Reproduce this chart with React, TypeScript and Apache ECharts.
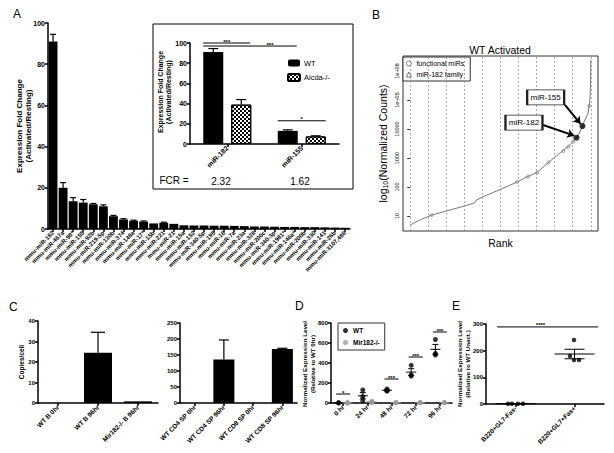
import React, { useEffect, useRef } from 'react';
import * as echarts from 'echarts';

const FONT = '"Liberation Sans", Arial, Helvetica, sans-serif';

// ---------- Panel A (main) ----------
const A_CATS = ['mmu-miR-182', 'mmu-miR-467a', 'mmu-miR-98*', 'mmu-miR-155', 'mmu-miR-92b', 'mmu-miR-219-5p', 'mmu-miR-130b', 'mmu-miR-374', 'mmu-miR-148a', 'mmu-miR-17*', 'mmu-miR-15b', 'mmu-miR-221', 'mmu-miR-21', 'mmu-miR-15a', 'mmu-miR-152', 'mmu-miR-340-5p', 'mmu-miR-195', 'mmu-miR-16', 'mmu-miR-7a', 'mmu-miR-23a', 'mmu-miR-328', 'mmu-miR-200c', 'mmu-miR-340-3p', 'mmu-miR-1981*', 'mmu-miR-146a*', 'mmu-miR-200b', 'mmu-miR-330', 'mmu-miR-141', 'mmu-miR-26b', 'mmu-miR-3107,486'];
const A_VALUES = [91, 20, 13.5, 12.8, 12, 11, 6.2, 4.6, 4, 3.6, 2.7, 3, 2.5, 1.8, 1.7, 1.7, 1.6, 1.6, 1.5, 1.4, 1.2, 1.2, 1.1, 1.0, 1.0, 0.9, 0.9, 0.8, 0.7, 0.6];
const A_ERRORS = [3.5, 2.5, 1.7, 1.5, 0.4, 0.7, 0.4, 0.4, 0.3, 0.3, 0.2, 0.3, 0.2, 0.2, 0.2, 0.1, 0.1, 0.1, 0.1, 0.1, 0.1, 0.1, 0.1, 0.1, 0.1, 0.1, 0.1, 0.1, 0.1, 0.1];
const A_YTITLE = 'Expression Fold Change\n(Activated/Resting)';

// ---------- Panel A (inset) ----------
const INSET_CATS = ['miR-182', 'miR-155'];
const INSET_WT = [91, 13];
const INSET_WT_ERR = [3.5, 1];
const INSET_AICDA = [39, 7.5];
const INSET_AICDA_ERR = [5, 0.6];
const FCR_VALUES = ['2.32', '1.62'];

// ---------- Panel B ----------
const B_RANK = [0, 5, 9.7, 13.4, 20.3, 29.9, 35.5, 36.5, 40, 50, 59.2, 65, 70.2, 76.6, 81, 84.8, 87.5, 90.3, 92.1, 94, 95.4, 96.5, 97.6, 98.5, 99.1, 99.6, 99.9, 100];
const B_COUNTS = [4.9, 7.1, 9.5, 11.5, 15, 22, 28, 35, 45, 83, 148, 229, 316, 708, 1200, 1820, 2510, 3720, 5010, 7940, 12600, 19000, 26300, 35500, 61700, 126000, 398000, 2400000];
const B_FUNC_RANK = [11.9, 59.2, 65.2, 70.2, 76.6, 84.8, 87.5, 90.3, 99.1];
const B_FUNC_COUNTS = [10.7, 151, 229, 309, 708, 1740, 2450, 3630, 61700];
const B_HIGHLIGHT_NAMES = ['miR-182', 'miR-155'];
const B_HIGHLIGHT_RANK = [92.1, 95.4];
const B_HIGHLIGHT_COUNTS = [5010, 12600];
const B_GRID_RANKS = [0, 10, 20, 30, 40, 50, 60, 70, 80, 90, 100];
const B_TICK_EXP = [1, 2, 3, 4, 5, 6];
const B_TICK_LABELS = ['10', '100', '1000', '10000', '1e+05', '1e+06'];

// ---------- Panel C ----------
const C1_CATS = ['WT B 0hr', 'WT B 96hr', 'Mir182-/- B 96hr'];
const C1_VALUES = [0, 24.5, 0.8];
const C1_ERRORS = [0, 10, 0];
const C2_CATS = ['WT CD4 SP 0hr', 'WT CD4 SP 96hr', 'WT CD8 SP 0hr', 'WT CD8 SP 96hr'];
const C2_VALUES = [0, 136, 0, 169];
const C2_ERRORS = [0, 61, 0, 2];

// ---------- Panel D ----------
const D_CATS = ['0 hr', '24 hr', '48 hr', '72 hr', '96 hr'];
const D_WT = [[2, 2, 1], [130, 63, 23], [140, 125, 118], [377, 280, 270], [635, 495, 480]];
const D_MIR = [[1, 1, 1], [18, 10, 5], [3, 3, 3], [3, 3, 3], [3, 3, 3]];
const D_SIG_CATS = [0, 2, 3, 4];
const D_SIG_Y = [90, 240, 460, 710];
const D_SIG_TEXT = ['*', '***', '***', '***'];

// ---------- Panel E ----------
const E_CATS = ['B220+GL7-Fas-', 'B220+GL7+Fas+'];
const E_VALUES = [[1, 1, 1, 1], [240, 180, 165, 165]];
const E_SIG_Y = 289;
const E_SIG_TEXT = '****';

// layout / style constants
const E_OFFSETS = [[-7.5, -3.5, 2.5, 7.5], [-0.5, -4.5, -0.5, 4.5]];

const mean = (a: number[]) => a.reduce((s, v) => s + v, 0) / a.length;
const sem = (a: number[]) => {
  const m = mean(a);
  const sd = Math.sqrt(a.reduce((s, v) => s + (v - m) * (v - m), 0) / (a.length - 1));
  return sd / Math.sqrt(a.length);
};

const lbl = (size: number, extra: any = {}) => ({ color: '#000', fontFamily: FONT, fontWeight: 'bold', fontSize: size, ...extra });
const AXLINE = { show: true, lineStyle: { color: '#000', width: 1.5 } };
const AXTICK = { show: true, length: 3, lineStyle: { color: '#000', width: 1.5 } };

function catX(gridIndex: number, data: string[], size: number, extra: any = {}) {
  return {
    type: 'category', gridIndex, data, boundaryGap: true,
    axisLine: AXLINE,
    axisTick: { ...AXTICK, alignWithLabel: true },
    axisLabel: lbl(size, { rotate: 45, interval: 0, margin: 3 }),
    splitLine: { show: false },
    ...extra,
  };
}
function valY(gridIndex: number, min: number, max: number, interval: number, size: number) {
  return {
    type: 'value', gridIndex, min, max, interval,
    axisLine: AXLINE, axisTick: AXTICK,
    axisLabel: lbl(size, { margin: 3 }),
    splitLine: { show: false },
  };
}

function errSeries(xi: number, yi: number, values: number[], errs: number[], dx: number, cap: number) {
  return {
    type: 'custom', xAxisIndex: xi, yAxisIndex: yi, silent: true, z: 3,
    data: values.map((v, i) => [i, v, v + errs[i]]),
    renderItem: (params: any, api: any) => {
      const i = api.value(0);
      const p1 = api.coord([i, api.value(1)]);
      const p2 = api.coord([i, api.value(2)]);
      const x = p1[0] + dx;
      const st = { stroke: '#000', lineWidth: 1.2 };
      if (Math.abs(p1[1] - p2[1]) < 0.5) return { type: 'group', children: [] };
      return {
        type: 'group', children: [
          { type: 'line', shape: { x1: x, y1: p1[1], x2: x, y2: p2[1] }, style: st },
          { type: 'line', shape: { x1: x - cap, y1: p2[1], x2: x + cap, y2: p2[1] }, style: st },
        ],
      };
    },
  };
}

function meanSemSeries(xi: number, yi: number, groups: number[][], dx: number, halfMean: number, halfCap: number, color: string) {
  return {
    type: 'custom', xAxisIndex: xi, yAxisIndex: yi, silent: true, z: 4,
    data: groups.map((g, i) => { const m = mean(g); const s = sem(g); return [i, m, m - s, m + s]; }),
    renderItem: (params: any, api: any) => {
      const i = api.value(0);
      const pm = api.coord([i, api.value(1)]);
      const pl = api.coord([i, api.value(2)]);
      const ph = api.coord([i, api.value(3)]);
      const x = pm[0] + dx;
      const st = { stroke: color, lineWidth: 1 };
      return {
        type: 'group', children: [
          { type: 'line', shape: { x1: x - halfMean, y1: pm[1], x2: x + halfMean, y2: pm[1] }, style: st },
          { type: 'line', shape: { x1: x, y1: pl[1], x2: x, y2: ph[1] }, style: st },
          { type: 'line', shape: { x1: x - halfCap, y1: pl[1], x2: x + halfCap, y2: pl[1] }, style: st },
          { type: 'line', shape: { x1: x - halfCap, y1: ph[1], x2: x + halfCap, y2: ph[1] }, style: st },
        ],
      };
    },
  };
}

type Sig = { c1: number; dx1: number; c2: number; dx2: number; y: number; text: string; tdx: number };
function sigSeries(xi: number, yi: number, sigs: Sig[], fontSize: number) {
  return {
    type: 'custom', xAxisIndex: xi, yAxisIndex: yi, silent: true, z: 5,
    data: sigs.map((s) => [s.c1, s.y]),
    renderItem: (params: any, api: any) => {
      const s = sigs[params.dataIndex];
      const p1 = api.coord([s.c1, s.y]);
      const p2 = api.coord([s.c2, s.y]);
      const x1 = p1[0] + s.dx1, x2 = p2[0] + s.dx2, y = p1[1];
      return {
        type: 'group', children: [
          { type: 'line', shape: { x1, y1: y, x2, y2: y }, style: { stroke: '#000', lineWidth: 1 } },
          {
            type: 'text',
            style: {
              text: s.text, x: (x1 + x2) / 2 + s.tdx, y: y + 1.5,
              textAlign: 'center', textVerticalAlign: 'bottom', align: 'center', verticalAlign: 'bottom',
              fontSize, fontFamily: FONT, fontWeight: 'bold', fill: '#000',
            },
          },
        ],
      };
    },
  };
}

function gText(text: string, x: number, y: number, size: number, align = 'left', weight = 'normal', rotation = 0, lineHeight?: number) {
  return {
    type: 'text', silent: true, x, y, rotation,
    style: {
      text, x: 0, y: 0, fontSize: size, fontFamily: FONT, fontWeight: weight, fill: '#000',
      textAlign: align, align, textVerticalAlign: 'middle', verticalAlign: 'middle',
      ...(lineHeight ? { lineHeight } : {}),
    },
  };
}

function buildOption(): any {
  const log10 = (v: number) => Math.log10(v);
  const grid = [
    { left: 48, top: 23, width: 302, height: 206 },
    { left: 190, top: 43, width: 149, height: 101 },
    { left: 403, top: 56, width: 195, height: 175, show: true, borderColor: '#333', borderWidth: 1, backgroundColor: 'transparent' },
    { left: 38, top: 321, width: 120, height: 82 },
    { left: 180, top: 323, width: 117, height: 80 },
    { left: 331, top: 323, width: 121, height: 80 },
    { left: 486, top: 324, width: 118, height: 80 },
  ];

  const xAxis = [
    catX(0, A_CATS, 6),
    catX(1, INSET_CATS, 7),
    {
      type: 'value', gridIndex: 2, min: -4, max: 104,
      axisLine: { show: false }, axisTick: { show: false }, axisLabel: { show: false }, splitLine: { show: false },
      name: 'Rank', nameLocation: 'middle', nameGap: 6,
      nameTextStyle: { color: '#000', fontFamily: FONT, fontSize: 10.5 },
    },
    catX(3, C1_CATS, 6.5),
    catX(4, C2_CATS, 6.5),
    catX(5, D_CATS, 6.5),
    catX(6, E_CATS, 6.5),
  ];

  const yAxis = [
    valY(0, 0, 100, 20, 7),
    valY(1, 0, 100, 20, 7),
    {
      type: 'value', gridIndex: 2, min: 0.483, max: 6.517,
      axisLine: { show: false },
      axisTick: { show: true, customValues: B_TICK_EXP, length: 3, lineStyle: { color: '#000', width: 0.8 } },
      axisLabel: {
        customValues: B_TICK_EXP, rotate: 90, fontSize: 5.5, color: '#000', fontFamily: FONT, margin: 3,
        formatter: (v: number) => B_TICK_LABELS[B_TICK_EXP.indexOf(Math.round(v))] ?? '',
      },
      splitLine: { show: false },
      name: '{a|log}{s|10}{a|(Normalized Counts)}', nameLocation: 'middle', nameGap: 14,
      nameTextStyle: {
        color: '#000', fontFamily: FONT, fontSize: 10.5,
        rich: {
          a: { fontSize: 10.5, fontFamily: FONT, color: '#000' },
          s: { fontSize: 7, fontFamily: FONT, color: '#000', padding: [5, 0, 0, 0] },
        },
      },
    },
    valY(3, 0, 40, 10, 6),
    valY(4, 0, 250, 50, 6),
    valY(5, 0, 800, 200, 6),
    valY(6, 0, 300, 100, 6),
  ];

  const series: any[] = [];

  // A main
  series.push({ type: 'bar', xAxisIndex: 0, yAxisIndex: 0, data: A_VALUES, barWidth: '88%', itemStyle: { color: '#000' }, silent: true });
  series.push(errSeries(0, 0, A_VALUES, A_ERRORS, 0, 3));

  // A inset
  series.push({ name: 'WT', type: 'bar', xAxisIndex: 1, yAxisIndex: 1, data: INSET_WT, barWidth: 20, barGap: '40%', itemStyle: { color: '#000' }, silent: true });
  series.push({
    name: 'Aicda-/-', type: 'bar', xAxisIndex: 1, yAxisIndex: 1, data: INSET_AICDA, barWidth: 20, silent: true,
    itemStyle: {
      color: '#fff', borderColor: '#000', borderWidth: 1,
      decal: { symbol: 'rect', symbolSize: 1, dashArrayX: [[1.5, 1.5], [0, 1.5, 1.5, 0]], dashArrayY: [1.5, 0], color: '#000', rotation: 0 },
    },
  });
  series.push(errSeries(1, 1, INSET_WT, INSET_WT_ERR, -14, 5));
  series.push(errSeries(1, 1, INSET_AICDA, INSET_AICDA_ERR, 14, 5));
  series.push(sigSeries(1, 1, [
    { c1: 0, dx1: -24, c2: 0, dx2: 23, y: 100, text: '***', tdx: 0 },
    { c1: 0, dx1: -24, c2: 1, dx2: -5, y: 97, text: '***', tdx: 20 },
    { c1: 1, dx1: -24, c2: 1, dx2: 24, y: 23, text: '*', tdx: 0 },
  ], 6));

  // B
  series.push({
    type: 'line', xAxisIndex: 2, yAxisIndex: 2, silent: true, showSymbol: false, symbol: 'none',
    data: B_RANK.map((r, i) => [r, log10(B_COUNTS[i])]),
    lineStyle: { color: '#555', width: 0.8 },
    markLine: {
      silent: true, symbol: ['none', 'none'], label: { show: false },
      lineStyle: { type: [2, 2], color: '#888', width: 0.7 },
      data: B_GRID_RANKS.map((r) => ({ xAxis: r })),
    },
  });
  series.push({
    name: 'functional miRs', type: 'scatter', xAxisIndex: 2, yAxisIndex: 2, silent: true, symbol: 'circle', symbolSize: 3,
    itemStyle: { color: '#fff', borderColor: '#555', borderWidth: 0.7 },
    data: B_FUNC_RANK.map((r, i) => [r, log10(B_FUNC_COUNTS[i])]),
  });
  series.push({
    name: 'miR-182 family', type: 'scatter', xAxisIndex: 2, yAxisIndex: 2, silent: true, symbol: 'triangle', symbolSize: 4,
    itemStyle: { color: '#fff', borderColor: '#555', borderWidth: 0.7 }, data: [],
  });
  series.push({
    type: 'scatter', xAxisIndex: 2, yAxisIndex: 2, silent: true, symbol: 'circle', symbolSize: 6, z: 6,
    itemStyle: { color: '#000' },
    data: B_HIGHLIGHT_RANK.map((r, i) => ({ name: B_HIGHLIGHT_NAMES[i], value: [r, log10(B_HIGHLIGHT_COUNTS[i])] })),
    markPoint: {
      silent: true, symbol: 'rect', symbolSize: [37, 15],
      itemStyle: { color: '#fff', borderColor: '#222', borderWidth: 1.5 },
      label: { show: true, position: 'inside', color: '#000', fontSize: 8, fontFamily: FONT, formatter: '{b}' },
      data: [
        { name: 'miR-155', coord: [75, 5.09] },
        { name: 'miR-182', coord: [63, 4.22] },
      ],
    },
    markLine: {
      silent: true, symbol: ['none', 'arrow'], symbolSize: 7, label: { show: false },
      lineStyle: { color: '#000', width: 2, type: 'solid' },
      data: [
        [{ coord: [85.7, 4.83] }, { coord: [94.3, 4.18] }],
        [{ coord: [73.6, 4.14] }, { coord: [90.8, 3.77] }],
      ],
    },
  });

  // C
  series.push({ type: 'bar', xAxisIndex: 3, yAxisIndex: 3, data: C1_VALUES, barWidth: 28, itemStyle: { color: '#000' }, silent: true });
  series.push(errSeries(3, 3, C1_VALUES, C1_ERRORS, 0, 7));
  series.push({ type: 'bar', xAxisIndex: 4, yAxisIndex: 4, data: C2_VALUES, barWidth: 21, itemStyle: { color: '#000' }, silent: true });
  series.push(errSeries(4, 4, C2_VALUES, C2_ERRORS, 0, 5));

  // D
  series.push({
    name: 'D-WT', type: 'scatter', xAxisIndex: 5, yAxisIndex: 5, silent: true, symbol: 'circle', symbolSize: 5, symbolOffset: [-4.5, 0],
    itemStyle: { color: '#000' },
    data: D_WT.flatMap((g, i) => g.map((v) => [i, v])),
  });
  series.push({
    name: 'D-Mir182-/-', type: 'scatter', xAxisIndex: 5, yAxisIndex: 5, silent: true, symbol: 'circle', symbolSize: 5, symbolOffset: [4.5, 0],
    itemStyle: { color: '#999' },
    data: D_MIR.flatMap((g, i) => g.map((v) => [i, v])),
  });
  series.push(meanSemSeries(5, 5, D_WT, -4.5, 5, 3, '#000'));
  series.push(meanSemSeries(5, 5, D_MIR, 4.5, 5, 3, '#999'));
  series.push(sigSeries(5, 5, D_SIG_CATS.map((c, i) => ({ c1: c, dx1: -7, c2: c, dx2: 7, y: D_SIG_Y[i], text: D_SIG_TEXT[i], tdx: 0 })), 6));

  // E
  series.push({
    type: 'scatter', xAxisIndex: 6, yAxisIndex: 6, silent: true, symbol: 'circle', symbolSize: 4.5,
    itemStyle: { color: '#000' },
    data: E_VALUES.flatMap((g, i) => g.map((v, j) => ({ value: [i, v], symbolOffset: [E_OFFSETS[i][j], 0] }))),
  });
  series.push(meanSemSeries(6, 6, E_VALUES, 0, 20, 10, '#000'));
  series.push(sigSeries(6, 6, [{ c1: 0, dx1: -18.5, c2: 1, dx2: 23.5, y: E_SIG_Y, text: E_SIG_TEXT, tdx: -7 }], 6));

  const hollow = { color: '#fff', borderColor: '#333', borderWidth: 0.8 };
  const legend = [
    {
      data: ['WT', 'Aicda-/-'], left: 287, top: 59, orient: 'vertical', itemWidth: 12, itemHeight: 7, itemGap: 6, padding: 0,
      selectedMode: false, textStyle: { fontSize: 7.5, fontFamily: FONT, color: '#000', padding: [0, 0, 0, -1] },
    },
    {
      data: [
        { name: 'functional miRs', icon: 'circle', itemStyle: hollow },
        { name: 'miR-182 family', icon: 'triangle', itemStyle: hollow },
      ],
      left: 403, top: 57, orient: 'vertical', itemWidth: 5, itemHeight: 5, itemGap: 4,
      padding: [3, 6, 3, 3], borderColor: '#333', borderWidth: 1, backgroundColor: '#fff',
      selectedMode: false, textStyle: { fontSize: 7, fontFamily: FONT, color: '#000' },
    },
    {
      data: ['D-WT', 'D-Mir182-/-'], left: 338, top: 323, orient: 'vertical', itemWidth: 5, itemHeight: 5, itemGap: 5,
      padding: [4, 5, 4, 5], borderColor: '#333', borderWidth: 1,
      selectedMode: false, formatter: (n: string) => n.replace('D-', ''),
      textStyle: { fontSize: 6.5, fontFamily: FONT, fontWeight: 'bold', color: '#000' },
    },
  ];

  const ROT = Math.PI / 2;
  const graphic = [
    gText('A', 13, 14, 12),
    gText('B', 372, 15, 12),
    gText('C', 9, 307, 12),
    gText('D', 295, 306, 12),
    gText('E', 452, 306, 12),
    { type: 'rect', silent: true, shape: { x: 153, y: 24, width: 200, height: 165 }, style: { fill: 'none', stroke: '#000', lineWidth: 1 } },
    gText('FCR =', 174, 180, 10, 'center'),
    gText(FCR_VALUES[0], 221, 181, 10, 'center'),
    gText(FCR_VALUES[1], 300, 181, 10, 'center'),
    gText('WT Activated', 500, 50, 10.5, 'center'),
    // y-axis titles
    gText(A_YTITLE, 24, 126, 8, 'center', 'bold', ROT, 8.5),
    gText(A_YTITLE, 164, 92, 7, 'center', 'bold', ROT, 8),
    gText('Copies/cell', 21, 362, 6.5, 'center', 'bold', ROT),
    gText('Normalized Expression Level\n(Relative to WT 0hr)', 308.5, 364, 6.2, 'center', 'bold', ROT, 7.2),
    gText('Normalized Expression Level\n(Relative to WT Unact.)', 463.5, 364, 6.2, 'center', 'bold', ROT, 7.2),
  ];

  return { animation: false, backgroundColor: '#fff', grid, xAxis, yAxis, series, legend, graphic };
}

export default function App() {
  const ref = useRef<HTMLDivElement>(null);
  useEffect(() => {
    if (!ref.current) return;
    const chart = echarts.init(ref.current, null, { renderer: 'svg' });
    chart.setOption(buildOption());
    return () => chart.dispose();
  }, []);
  return <div ref={ref} style={{ position: 'absolute', left: 0, top: 0, width: 614, height: 453, background: '#fff' }} />;
}
